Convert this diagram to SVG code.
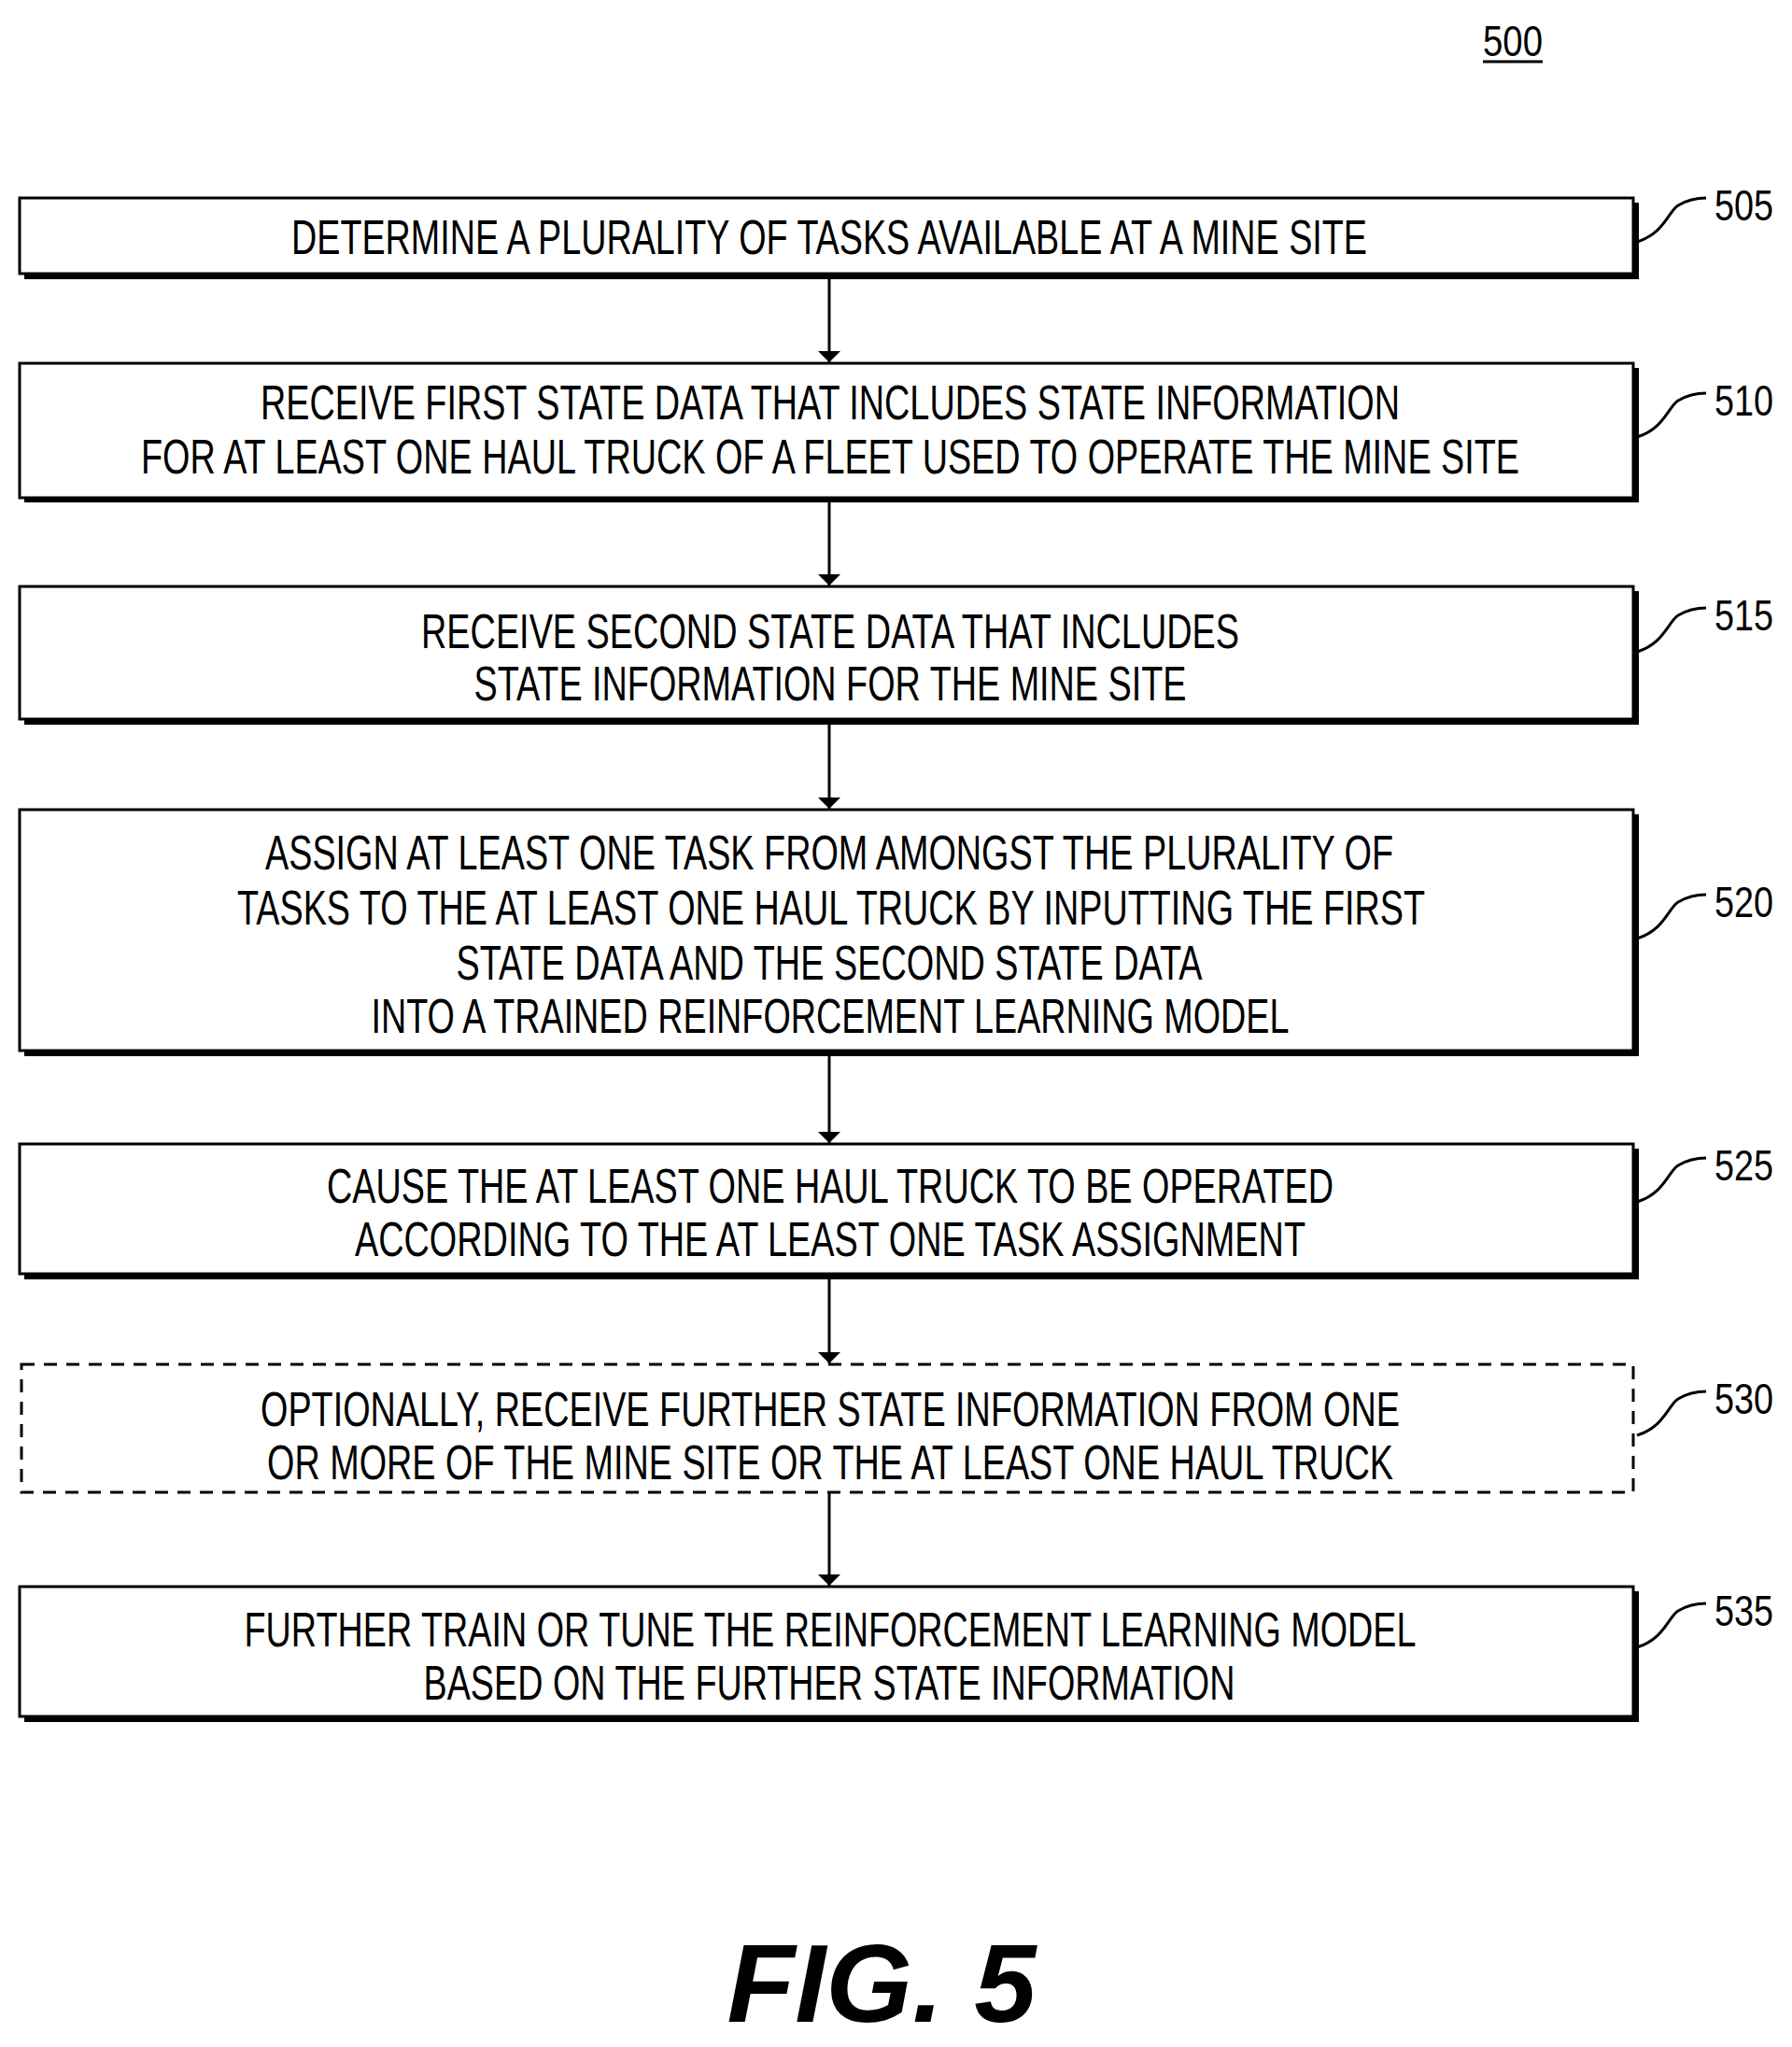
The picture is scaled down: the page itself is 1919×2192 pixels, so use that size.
<svg xmlns="http://www.w3.org/2000/svg" width="1919" height="2192" viewBox="0 0 1919 2192">
<defs>
<style>
.box{fill:#fff;stroke:#000;stroke-width:3}
.sh{fill:#000}
.dash{fill:#fff;stroke:#000;stroke-width:3;stroke-dasharray:14,10}
.t{font-family:"Liberation Sans",Arial,sans-serif;font-size:52px;text-anchor:middle;fill:#000}
.lbl{font-family:"Liberation Sans",Arial,sans-serif;font-size:46px;fill:#000}
.ld{fill:none;stroke:#000;stroke-width:3}
.c{stroke:#000;stroke-width:3;fill:none}
</style>
<marker id="ah" viewBox="0 0 12 24" refX="12" refY="12" markerWidth="12" markerHeight="24" markerUnits="userSpaceOnUse" orient="auto"><path d="M0,0 L12,12 L0,24 Z" fill="#000"/></marker>
</defs>
<text class="lbl" x="1620" y="60" text-anchor="middle" textLength="64" lengthAdjust="spacingAndGlyphs">500</text>
<line x1="1588" y1="66" x2="1652" y2="66" stroke="#000" stroke-width="3"/>
<g id="n505"><rect class="sh" x="26" y="217" width="1729" height="82"/><rect class="box" x="21" y="212" width="1728" height="81"/>
<text class="t" x="888" y="272" textLength="1152" lengthAdjust="spacingAndGlyphs">DETERMINE A PLURALITY OF TASKS AVAILABLE AT A MINE SITE</text>
<path class="ld" d="M1753,259 C1782,250 1787,226 1797,220 C1807,214 1815,212 1827,212"/><text class="lbl" x="1836" y="236" textLength="63" lengthAdjust="spacingAndGlyphs">505</text></g>
<g id="n510"><rect class="sh" x="26" y="394" width="1729" height="144"/><rect class="box" x="21" y="389" width="1728" height="144"/>
<text class="t" x="889" y="449" textLength="1220" lengthAdjust="spacingAndGlyphs">RECEIVE FIRST STATE DATA THAT INCLUDES STATE INFORMATION</text>
<text class="t" x="889" y="507" textLength="1476" lengthAdjust="spacingAndGlyphs">FOR AT LEAST ONE HAUL TRUCK OF A FLEET USED TO OPERATE THE MINE SITE</text>
<path class="ld" d="M1753,468 C1782,459 1787,435 1797,429 C1807,423 1815,421 1827,421"/><text class="lbl" x="1836" y="445" textLength="63" lengthAdjust="spacingAndGlyphs">510</text></g>
<g id="n515"><rect class="sh" x="26" y="633" width="1729" height="143"/><rect class="box" x="21" y="628" width="1728" height="142"/>
<text class="t" x="889" y="694" textLength="876" lengthAdjust="spacingAndGlyphs">RECEIVE SECOND STATE DATA THAT INCLUDES</text>
<text class="t" x="889" y="750" textLength="763" lengthAdjust="spacingAndGlyphs">STATE INFORMATION FOR THE MINE SITE</text>
<path class="ld" d="M1753,698 C1782,689 1787,665 1797,659 C1807,653 1815,651 1827,651"/><text class="lbl" x="1836" y="675" textLength="63" lengthAdjust="spacingAndGlyphs">515</text></g>
<g id="n520"><rect class="sh" x="26" y="872" width="1729" height="259"/><rect class="box" x="21" y="867" width="1728" height="258"/>
<text class="t" x="888" y="931" textLength="1208" lengthAdjust="spacingAndGlyphs">ASSIGN AT LEAST ONE TASK FROM AMONGST THE PLURALITY OF</text>
<text class="t" x="890" y="990" textLength="1272" lengthAdjust="spacingAndGlyphs">TASKS TO THE AT LEAST ONE HAUL TRUCK BY INPUTTING THE FIRST</text>
<text class="t" x="888" y="1049" textLength="799" lengthAdjust="spacingAndGlyphs">STATE DATA AND THE SECOND STATE DATA</text>
<text class="t" x="889" y="1106" textLength="983" lengthAdjust="spacingAndGlyphs">INTO A TRAINED REINFORCEMENT LEARNING MODEL</text>
<path class="ld" d="M1753,1005 C1782,996 1787,972 1797,966 C1807,960 1815,958 1827,958"/><text class="lbl" x="1836" y="982" textLength="63" lengthAdjust="spacingAndGlyphs">520</text></g>
<g id="n525"><rect class="sh" x="26" y="1230" width="1729" height="140"/><rect class="box" x="21" y="1225" width="1728" height="139"/>
<text class="t" x="889" y="1288" textLength="1078" lengthAdjust="spacingAndGlyphs">CAUSE THE AT LEAST ONE HAUL TRUCK TO BE OPERATED</text>
<text class="t" x="889" y="1345" textLength="1018" lengthAdjust="spacingAndGlyphs">ACCORDING TO THE AT LEAST ONE TASK ASSIGNMENT</text>
<path class="ld" d="M1753,1287 C1782,1278 1787,1254 1797,1248 C1807,1242 1815,1240 1827,1240"/><text class="lbl" x="1836" y="1264" textLength="63" lengthAdjust="spacingAndGlyphs">525</text></g>
<g id="n530"><rect class="dash" x="23" y="1461" width="1726" height="137"/>
<text class="t" x="889" y="1527" textLength="1220" lengthAdjust="spacingAndGlyphs">OPTIONALLY, RECEIVE FURTHER STATE INFORMATION FROM ONE</text>
<text class="t" x="889" y="1584" textLength="1206" lengthAdjust="spacingAndGlyphs">OR MORE OF THE MINE SITE OR THE AT LEAST ONE HAUL TRUCK</text>
<path class="ld" d="M1753,1537 C1782,1528 1787,1504 1797,1498 C1807,1492 1815,1490 1827,1490"/><text class="lbl" x="1836" y="1514" textLength="63" lengthAdjust="spacingAndGlyphs">530</text></g>
<g id="n535"><rect class="sh" x="26" y="1704" width="1729" height="140"/><rect class="box" x="21" y="1699" width="1728" height="139"/>
<text class="t" x="889" y="1763" textLength="1255" lengthAdjust="spacingAndGlyphs">FURTHER TRAIN OR TUNE THE REINFORCEMENT LEARNING MODEL</text>
<text class="t" x="888" y="1820" textLength="869" lengthAdjust="spacingAndGlyphs">BASED ON THE FURTHER STATE INFORMATION</text>
<path class="ld" d="M1753,1764 C1782,1755 1787,1731 1797,1725 C1807,1719 1815,1717 1827,1717"/><text class="lbl" x="1836" y="1741" textLength="63" lengthAdjust="spacingAndGlyphs">535</text></g>
<g id="connectors">
<line class="c" x1="888" y1="298" x2="888" y2="388" marker-end="url(#ah)"/>
<line class="c" x1="888" y1="538" x2="888" y2="627" marker-end="url(#ah)"/>
<line class="c" x1="888" y1="776" x2="888" y2="866" marker-end="url(#ah)"/>
<line class="c" x1="888" y1="1131" x2="888" y2="1224" marker-end="url(#ah)"/>
<line class="c" x1="888" y1="1370" x2="888" y2="1460" marker-end="url(#ah)"/>
<line class="c" x1="888" y1="1599" x2="888" y2="1698" marker-end="url(#ah)"/>
</g>
<text x="944" y="2165" text-anchor="middle" font-family="Liberation Sans, Arial, sans-serif" font-size="118" font-weight="bold" font-style="italic" textLength="331" lengthAdjust="spacingAndGlyphs">FIG. 5</text>
</svg>
